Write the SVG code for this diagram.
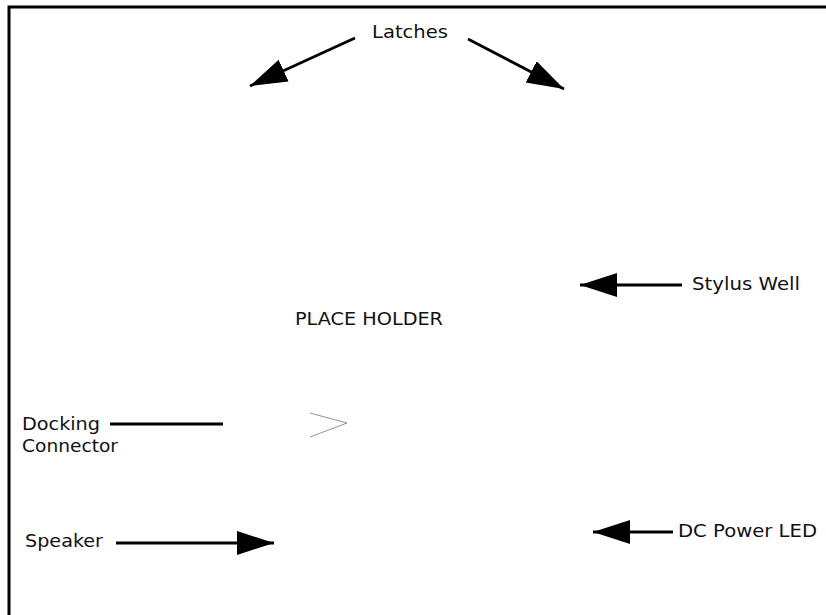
<svg xmlns="http://www.w3.org/2000/svg" width="826" height="615" viewBox="0 0 826 615">
<style>
.lbl{font-family:"DejaVu Sans","Liberation Sans",sans-serif;font-size:18.5px;fill:#111}
.ln{stroke:#000;stroke-width:2.8;fill:none}
</style>
<defs>
<marker id="ah" markerUnits="userSpaceOnUse" markerWidth="40" markerHeight="26" refX="37" refY="12" orient="auto">
<path d="M0,0 L37,12 L0,24 z" fill="#000"/>
</marker>
</defs>
<rect width="826" height="615" fill="#fff"/>
<path d="M9,615 V7 H826" stroke="#000" stroke-width="3" fill="none"/>
<g id="connectors">
<line class="ln" x1="355" y1="38" x2="250" y2="86" marker-end="url(#ah)"/>
<line class="ln" x1="468" y1="39" x2="564" y2="89" marker-end="url(#ah)"/>
<line class="ln" x1="682" y1="285" x2="580" y2="285" marker-end="url(#ah)"/>
<line class="ln" x1="110" y1="424" x2="223" y2="424"/>
<line class="ln" x1="116" y1="543" x2="274" y2="543" marker-end="url(#ah)"/>
<line class="ln" x1="673" y1="532" x2="593" y2="532" marker-end="url(#ah)"/>
</g>
<g id="latches"><text class="lbl" x="372" y="38" textLength="76" lengthAdjust="spacingAndGlyphs">Latches</text></g>
<g id="stylus-well"><text class="lbl" x="692" y="290" textLength="108" lengthAdjust="spacingAndGlyphs">Stylus Well</text></g>
<g id="place-holder"><text class="lbl" x="295" y="325" textLength="148" lengthAdjust="spacingAndGlyphs">PLACE HOLDER</text></g>
<g id="docking-connector">
<text class="lbl" x="22" y="430" textLength="78" lengthAdjust="spacingAndGlyphs">Docking</text>
<text class="lbl" x="22" y="452" textLength="96" lengthAdjust="spacingAndGlyphs">Connector</text>
</g>
<g id="glyph"><path d="M310,413 L347,423 L310,437" stroke="#777" stroke-width="0.8" fill="none"/></g>
<g id="speaker"><text class="lbl" x="25" y="547" textLength="78" lengthAdjust="spacingAndGlyphs">Speaker</text></g>
<g id="dc-power-led"><text class="lbl" x="678" y="537" textLength="139" lengthAdjust="spacingAndGlyphs">DC Power LED</text></g>
</svg>
